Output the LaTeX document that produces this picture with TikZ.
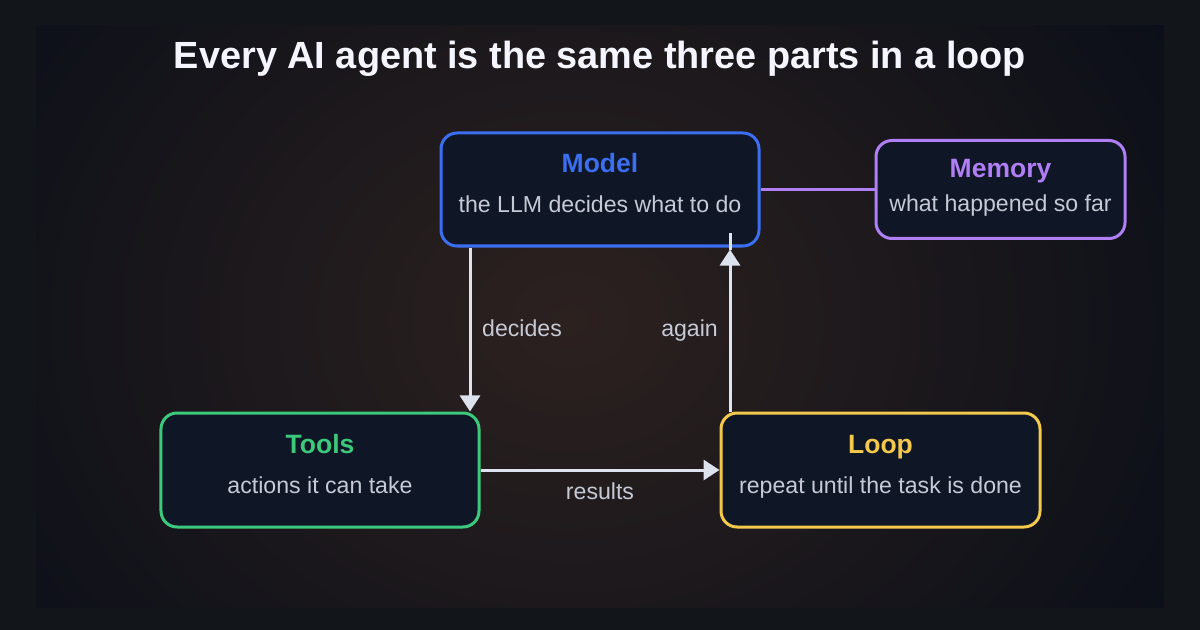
\documentclass[tikz,border=0pt]{standalone}
\usepackage{fontspec}
\setmainfont{Liberation Sans}
\usetikzlibrary{positioning,arrows.meta}
\definecolor{pagebg}{HTML}{12151A}
\definecolor{panelbg}{HTML}{0B0F19}
\definecolor{glow}{HTML}{2C211F}
\definecolor{boxbg}{HTML}{0F1626}
\definecolor{modelc}{HTML}{3B6EF0}
\definecolor{memc}{HTML}{B07EF5}
\definecolor{toolc}{HTML}{3DC97B}
\definecolor{loopc}{HTML}{F2C94C}
\definecolor{subc}{HTML}{C5CAD6}
\definecolor{wirec}{HTML}{DDE3EE}

\begin{document}
\begin{tikzpicture}[x=1bp, y=-1bp,
  box/.style={rectangle, draw=#1, line width=3bp, rounded corners=16bp, fill=boxbg, inner sep=0pt, minimum width=318bp, minimum height=114bp},
  head/.style={text=#1, font=\fontsize{26.6}{30}\selectfont\bfseries, anchor=base, inner sep=0pt},
  sub/.style={text=subc, font=\fontsize{23.2}{27}\selectfont, anchor=base, inner sep=0pt},
  flow/.style={draw=wirec, line width=3bp, -{Triangle[width=20bp,length=16bp]}},
  wire/.style={draw=wirec, line width=3bp},
  lbl/.style={text=subc, font=\fontsize{23.2}{27}\selectfont, inner sep=0pt}]
% background
\useasboundingbox (0,0) rectangle (1200,630);
\fill[pagebg] (0,0) rectangle (1200,630);
\fill[panelbg] (36,26) rectangle (1164,607);
\begin{scope}
\clip (36,26) rectangle (1164,607);
\shade[inner color=glow, outer color=panelbg] (570,320) ellipse (700 and 580);
\end{scope}
\node[text=white!96!blue, font=\fontsize{38}{44}\selectfont\bfseries, anchor=base, inner sep=0pt] (title) at (600,69) {Every AI agent is the same three parts in a loop};
% the four parts
\node[box=modelc, minimum height=113bp] (model) at (600,189.5) {};
\node[box=memc, minimum width=249bp, minimum height=98bp, right=114bp of model] (memory) {};
\node[box=toolc] (tools) at (320,470) {};
\node[box=loopc, minimum width=319bp, right=239bp of tools] (loop) {};
\node[head=modelc] (model-t) at ([yshift=16.5bp]model.center) {Model};
\node[sub] (model-s) at ([yshift=-23.5bp]model.center) {the LLM decides what to do};
\node[head=memc] (memory-t) at ([yshift=12bp]memory.center) {Memory};
\node[sub] (memory-s) at ([yshift=-22bp]memory.center) {what happened so far};
\node[head=toolc] (tools-t) at ([yshift=17bp]tools.center) {Tools};
\node[sub] (tools-s) at ([yshift=-23bp]tools.center) {actions it can take};
\node[head=loopc] (loop-t) at ([yshift=17bp]loop.center) {Loop};
\node[sub] (loop-s) at ([yshift=-23bp]loop.center) {repeat until the task is done};
% connectors
\coordinate (dec-x) at ([xshift=30.5bp]model.south west);
\coordinate (ag-x) at ([xshift=-30.5bp]model.south east);
\coordinate (ag-tip) at ([yshift=-2bp]ag-x);
\coordinate (ag-end) at ([yshift=14bp]ag-x);
\draw[memc, line width=2.5bp] (model.east) -- (memory.west);
\draw[flow] (dec-x) -- (dec-x |- tools.north);
\draw[flow] (ag-x |- loop.north) -- (ag-tip);
\draw[wire] (ag-tip) -- (ag-end);
\draw[flow] (tools.east) -- (loop.west);
\node[lbl, anchor=base west] (decides) at (482,337) {decides};
\node[lbl, anchor=base east] (again) at (718,337) {again};
\node[lbl, anchor=base] (results) at (600,499) {results};
\end{tikzpicture}
\end{document}
